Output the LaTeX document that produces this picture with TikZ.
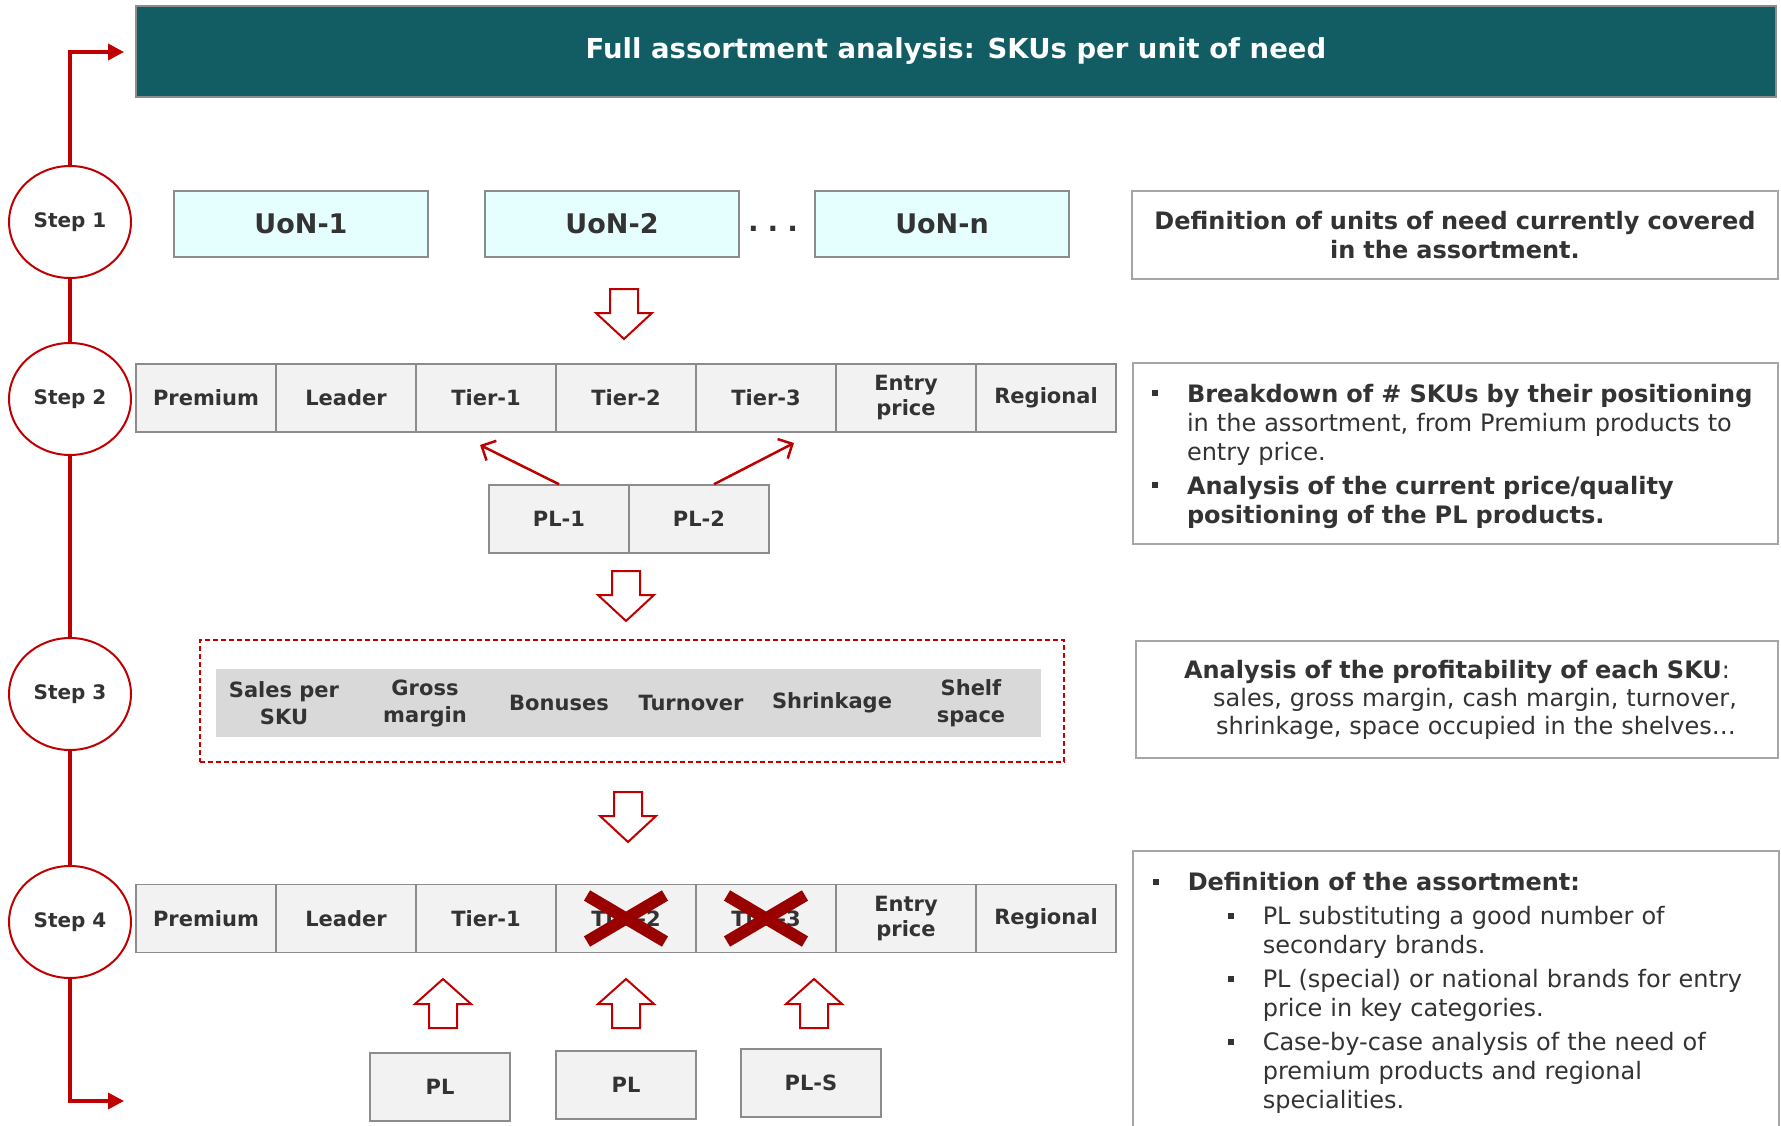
\documentclass[tikz,border=0pt]{standalone}
\usepackage{fontspec}
\setmainfont{DejaVu Sans}
\usetikzlibrary{arrows.meta,shapes.geometric}

\definecolor{titleteal}{HTML}{125C64}
\definecolor{stepred}{HTML}{C00000}
\definecolor{crossred}{HTML}{990000}
\definecolor{cellfill}{HTML}{F2F2F2}
\definecolor{cellline}{HTML}{8C8C8C}
\definecolor{uonfill}{HTML}{E5FFFF}
\definecolor{bandfill}{HTML}{D9D9D9}
\definecolor{txt}{HTML}{333333}
\definecolor{noteline}{HTML}{A6A6A6}

% bullet paragraph: #1 = left indent, #2 = text
\newcommand{\pitem}[2]{\par\leftskip=#1\hangindent=35pt\hangafter=1\noindent
  \makebox[35pt][l]{\raisebox{6pt}{\rule{6pt}{6pt}}}#2\par\vspace{5pt}}

\tikzset{
  x=1pt, y=-1pt,
  steptag/.style={ellipse, draw=stepred, fill=white, line width=2pt,
    minimum width=122pt, minimum height=112pt, inner sep=0pt,
    text=txt, font=\fontsize{20}{24}\selectfont\bfseries},
  flow/.style={draw=stepred, line width=3.5pt},
  cell/.style={draw=cellline, fill=cellfill, line width=1.5pt,
    minimum width=140pt, minimum height=68pt, inner sep=0pt, align=center,
    text=txt, font=\fontsize{21}{25}\selectfont\bfseries},
  uon/.style={cell, fill=uonfill, minimum width=254pt, minimum height=66pt,
    font=\fontsize{27}{32}\selectfont\bfseries},
  metric/.style={align=center, inner sep=0pt, text=txt,
    font=\fontsize{21}{27}\selectfont\bfseries},
  note/.style={draw=noteline, line width=1.5pt, text=txt,
    font=\fontsize{24}{29}\selectfont},
  blockarrow/.style={draw=stepred, fill=white, line width=2pt, line join=miter},
  thinarrow/.style={draw=stepred, line width=2.5pt,
    -{Straight Barb[length=11pt,width=22pt]}},
  cross/.style={draw=crossred, line width=12pt}
}

\begin{document}
\begin{tikzpicture}
	\useasboundingbox (0,0) rectangle (1781,1126);
	\fill[white] (0,0) rectangle (1781,1126);

	% header
	\node[fill=titleteal, draw=cellline, line width=1.5pt, minimum width=1640pt,
		minimum height=91pt, text=white, font=\fontsize{27.5}{32}\selectfont\bfseries]
		(title) at (956,51.5) {Full assortment analysis: SKUs per unit of need};

	% steps on the left
	\node[steptag] (step1) at (70,222) {Step 1};
	\node[steptag] (step2) at (70,399) {Step 2};
	\node[steptag] (step3) at (70,694) {Step 3};
	\node[steptag] (step4) at (70,922) {Step 4};

	\coordinate (topend) at (124,52);
	\coordinate (botend) at (124,1101);
	\draw[flow, -{Triangle[length=16pt,width=16pt]}] (step1.north) |- (topend);
	\draw[flow] (step1.south) -- (step2.north);
	\draw[flow] (step2.south) -- (step3.north);
	\draw[flow] (step3.south) -- (step4.north);
	\draw[flow, -{Triangle[length=16pt,width=16pt]}] (step4.south) |- (botend);

	% step 1: units of need
	\node[uon] (uon1) at (301,224) {UoN-1};
	\node[uon] (uon2) at (612,224) {UoN-2};
	\node[uon] (uonn) at (942,224) {UoN-n};
	\node[text=txt, inner sep=0pt, font=\fontsize{28}{32}\selectfont\bfseries] (dots) at (773,229)
		{.\hspace{9pt}.\hspace{9pt}.};

	% step 2: positioning of the SKUs
	\foreach \lbl [count=\i] in {Premium, Leader, Tier-1, Tier-2, Tier-3, {Entry\\price}, Regional}
		\node[cell] (a\i) at ({206+140*(\i-1)},398) {\lbl};

	\node[cell] (pl1) at (559,519) {PL-1};
	\node[cell] (pl2) at (699,519) {PL-2};
	\coordinate (t1) at (480,445);
	\coordinate (t2) at (794,443);
	\draw[thinarrow] (pl1.north) -- (t1);
	\draw[thinarrow] ([xshift=15pt]pl2.north) -- (t2);

	% step 3: profitability per SKU
	\node[draw=stepred, line width=1.5pt, dash pattern=on 5pt off 3pt,
		minimum width=864pt, minimum height=122pt] (sel) at (632,701) {};
	\node[fill=bandfill, minimum width=825pt, minimum height=68pt] (band) at (628.5,703) {};
	\foreach \x/\lbl [count=\i] in {284/{Sales per\\SKU}, 425/{Gross\\margin}, 559/Bonuses,
		691/Turnover, 832/Shrinkage, 971/{Shelf\\space}}
		\node[metric] (s\i) at (\x,703) {\lbl};

	% step 4: final assortment
	\foreach \lbl [count=\i] in {Premium, Leader, Tier-1, Tier-2, Tier-3, {Entry\\price}, Regional}
		\node[cell] (b\i) at ({206+140*(\i-1)},918.5) {\lbl};
	\foreach \c/\dx in {b4/-4, b5/0}
		\draw[cross, xshift=\dx] ([shift={(-39,-23)}]\c.center) -- ([shift={(39,23)}]\c.center)
			([shift={(-39,23)}]\c.center) -- ([shift={(39,-23)}]\c.center);

	\node[cell] (pla) at (440,1087) {PL};
	\node[cell] (plb) at (626,1085) {PL};
	\node[cell] (pls) at (811,1083) {PL-S};

	% block arrows between the steps
	\foreach \x/\y in {624/289, 626/571, 628/792}
		\draw[blockarrow, shift={(\x,\y)}] (-14,0) -- (14,0) -- (14,24) -- (28,24)
			-- (0,50) -- (-28,24) -- (-14,24) -- cycle;
	\foreach \x in {443,626,814}
		\draw[blockarrow, shift={(\x,1028)}] (-14,0) -- (14,0) -- (14,-24) -- (28,-24)
			-- (0,-49) -- (-28,-24) -- (-14,-24) -- cycle;

	% comments on the right
	\node[note, minimum width=646pt, minimum height=88pt, text width=630pt,
		align=center, font=\fontsize{24}{29}\selectfont\bfseries] (d1) at (1455,235)
		{Definition of units of need currently covered\\in the assortment.};

	\node[note, minimum width=645pt, minimum height=181pt, inner xsep=19pt,
		text width=607pt, align=left] (d2) at (1455.5,453.5) {%
		\pitem{0pt}{\textbf{Breakdown of \# SKUs by their positioning}\newline in the assortment, from Premium products to\newline entry price.}%
		\pitem{0pt}{\textbf{Analysis of the current price/quality\newline positioning of the PL products.}}};

	\node[note, minimum width=642pt, minimum height=117pt, text width=630pt,
		align=center, font=\fontsize{24}{28}\selectfont] (d3) at (1457,699.5)
		{\textbf{Analysis of the profitability of each SKU}:\\
		\hspace*{36pt}sales, gross margin, cash margin, turnover,\\
		\hspace*{38pt}shrinkage, space occupied in the shelves…};

	\node[note, anchor=north west, inner xsep=20pt, inner ysep=11pt,
		text width=606pt, align=left] (d4) at (1132,850) {%
		\pitem{0pt}{\textbf{Definition of the assortment:}}%
		\pitem{75pt}{PL substituting a good number of\newline secondary brands.}%
		\pitem{75pt}{PL (special) or national brands for entry\newline price in key categories.}%
		\pitem{75pt}{Case-by-case analysis of the need of\newline premium products and regional\newline specialities.}%
		\vspace{30pt}};
\end{tikzpicture}
\end{document}
